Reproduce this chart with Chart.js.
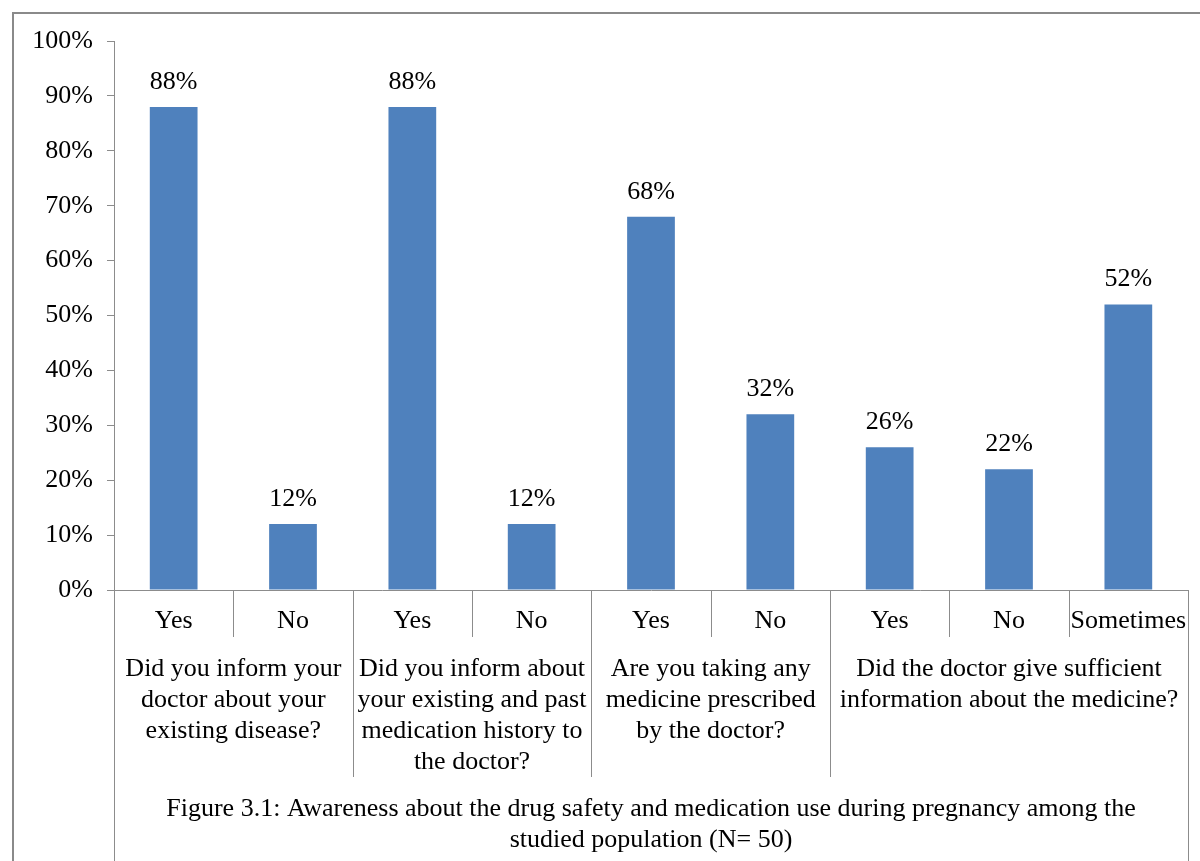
<!DOCTYPE html>
<html lang="en">
<head>
    <meta charset="UTF-8">
    <title>Figure 3.1</title>
    <script src="https://cdn.jsdelivr.net/npm/chart.js"></script>
    <style>
        body { margin: 0; background: #fff; }
        #wrap { width: 1200px; height: 861px; position: relative; }
    </style>
</head>
<body>
    <div id="wrap">
        <canvas id="awareChart" width="1200" height="861"></canvas>
    </div>
    <script>
        // answers (first level of the category axis)
        const answers = ['Yes', 'No', 'Yes', 'No', 'Yes', 'No', 'Yes', 'No', 'Sometimes'];
        // percentage of respondents
        const percents = [88, 12, 88, 12, 68, 32, 26, 22, 52];
        // question groups: first answer index, number of answers, wrapped text
        const groupStart = [0, 2, 4, 6];
        const groupSize = [2, 2, 2, 3];
        const groupLines = [
            ['Did you inform your', 'doctor about your', 'existing disease?'],
            ['Did you inform about', 'your existing and past', 'medication history to', 'the doctor?'],
            ['Are you taking any', 'medicine prescribed', 'by the doctor?'],
            ['Did the doctor give sufficient', 'information about the medicine?']
        ];
        const yTicks = [0, 10, 20, 30, 40, 50, 60, 70, 80, 90, 100];
        const caption = [
            'Figure 3.1: Awareness about the drug safety and medication use during pregnancy among the',
            'studied population (N= 50)'
        ];

        const serif = "'Liberation Serif', 'Times New Roman', serif";
        const fontSize = 26;
        const lineGray = '#8c8c8c';

        const axisExtras = {
            id: 'axisExtras',
            beforeDraw(chart) {
                const c = chart.ctx;
                c.save();
                c.strokeStyle = '#8a8a8a';
                c.lineWidth = 2;
                c.beginPath();
                c.moveTo(13, 861);
                c.lineTo(13, 13);
                c.lineTo(1200, 13);
                c.stroke();
                c.restore();
            },
            afterDraw(chart) {
                const c = chart.ctx;
                const x = chart.scales.x;
                const area = chart.chartArea;
                const half = (x.getPixelForValue(1) - x.getPixelForValue(0)) / 2;
                const base = area.bottom;
                c.save();
                c.strokeStyle = lineGray;
                c.lineWidth = 1;
                // separators between answers
                for (let i = 0; i <= answers.length; i++) {
                    const px = Math.round(x.getPixelForValue(i) - half) + 0.5;
                    let len = 47;
                    if (groupStart.includes(i)) len = 187;
                    if (i === 0 || i === answers.length) len = 300;
                    c.beginPath();
                    c.moveTo(px, base);
                    c.lineTo(px, base + len);
                    c.stroke();
                }
                // group text
                c.fillStyle = '#000';
                c.font = fontSize + 'px ' + serif;
                c.textAlign = 'center';
                c.textBaseline = 'middle';
                groupStart.forEach((s, g) => {
                    const left = x.getPixelForValue(s) - half;
                    const right = x.getPixelForValue(s + groupSize[g] - 1) + half;
                    const cx = (left + right) / 2;
                    groupLines[g].forEach((t, k) => {
                        c.fillText(t, cx, base + 79 + k * 31);
                    });
                });
                // caption
                const mid = (area.left + area.right) / 2;
                caption.forEach((t, k) => {
                    c.fillText(t, mid, base + 219 + k * 31);
                });
                // value labels above bars
                const meta = chart.getDatasetMeta(0);
                meta.data.forEach((bar, i) => {
                    c.textBaseline = 'bottom';
                    c.fillText(percents[i] + '%', bar.x, bar.y - 12);
                });
                c.restore();
            }
        };

        const ctx = document.getElementById('awareChart').getContext('2d');
        const awareChart = new Chart(ctx, {
            type: 'bar',
            data: {
                labels: answers,
                datasets: [{
                    data: percents,
                    backgroundColor: '#4f81bd',
                    barPercentage: 0.5,
                    categoryPercentage: 0.8
                }]
            },
            options: {
                responsive: false,
                animation: false,
                layout: { padding: { top: 41, right: 12, left: 0, bottom: 0 } },
                plugins: {
                    legend: { display: false },
                    tooltip: { enabled: false }
                },
                scales: {
                    x: {
                        grid: { display: false },
                        border: { color: lineGray, width: 1 },
                        ticks: {
                            color: '#000',
                            font: { family: serif, size: fontSize },
                            padding: 8,
                            maxRotation: 0,
                            autoSkip: false
                        },
                        afterFit(scale) { scale.height = 271; }
                    },
                    y: {
                        min: 0,
                        max: 100,
                        afterBuildTicks(scale) {
                            scale.ticks = yTicks.map(v => ({ value: v }));
                        },
                        grid: {
                            drawOnChartArea: false,
                            tickLength: 7,
                            color: lineGray
                        },
                        border: { color: lineGray, width: 1 },
                        ticks: {
                            color: '#000',
                            font: { family: serif, size: fontSize },
                            padding: 14,
                            callback: v => v + '%'
                        },
                        afterFit(scale) { scale.width = 114; }
                    }
                }
            },
            plugins: [axisExtras]
        });
    </script>
</body>
</html>
